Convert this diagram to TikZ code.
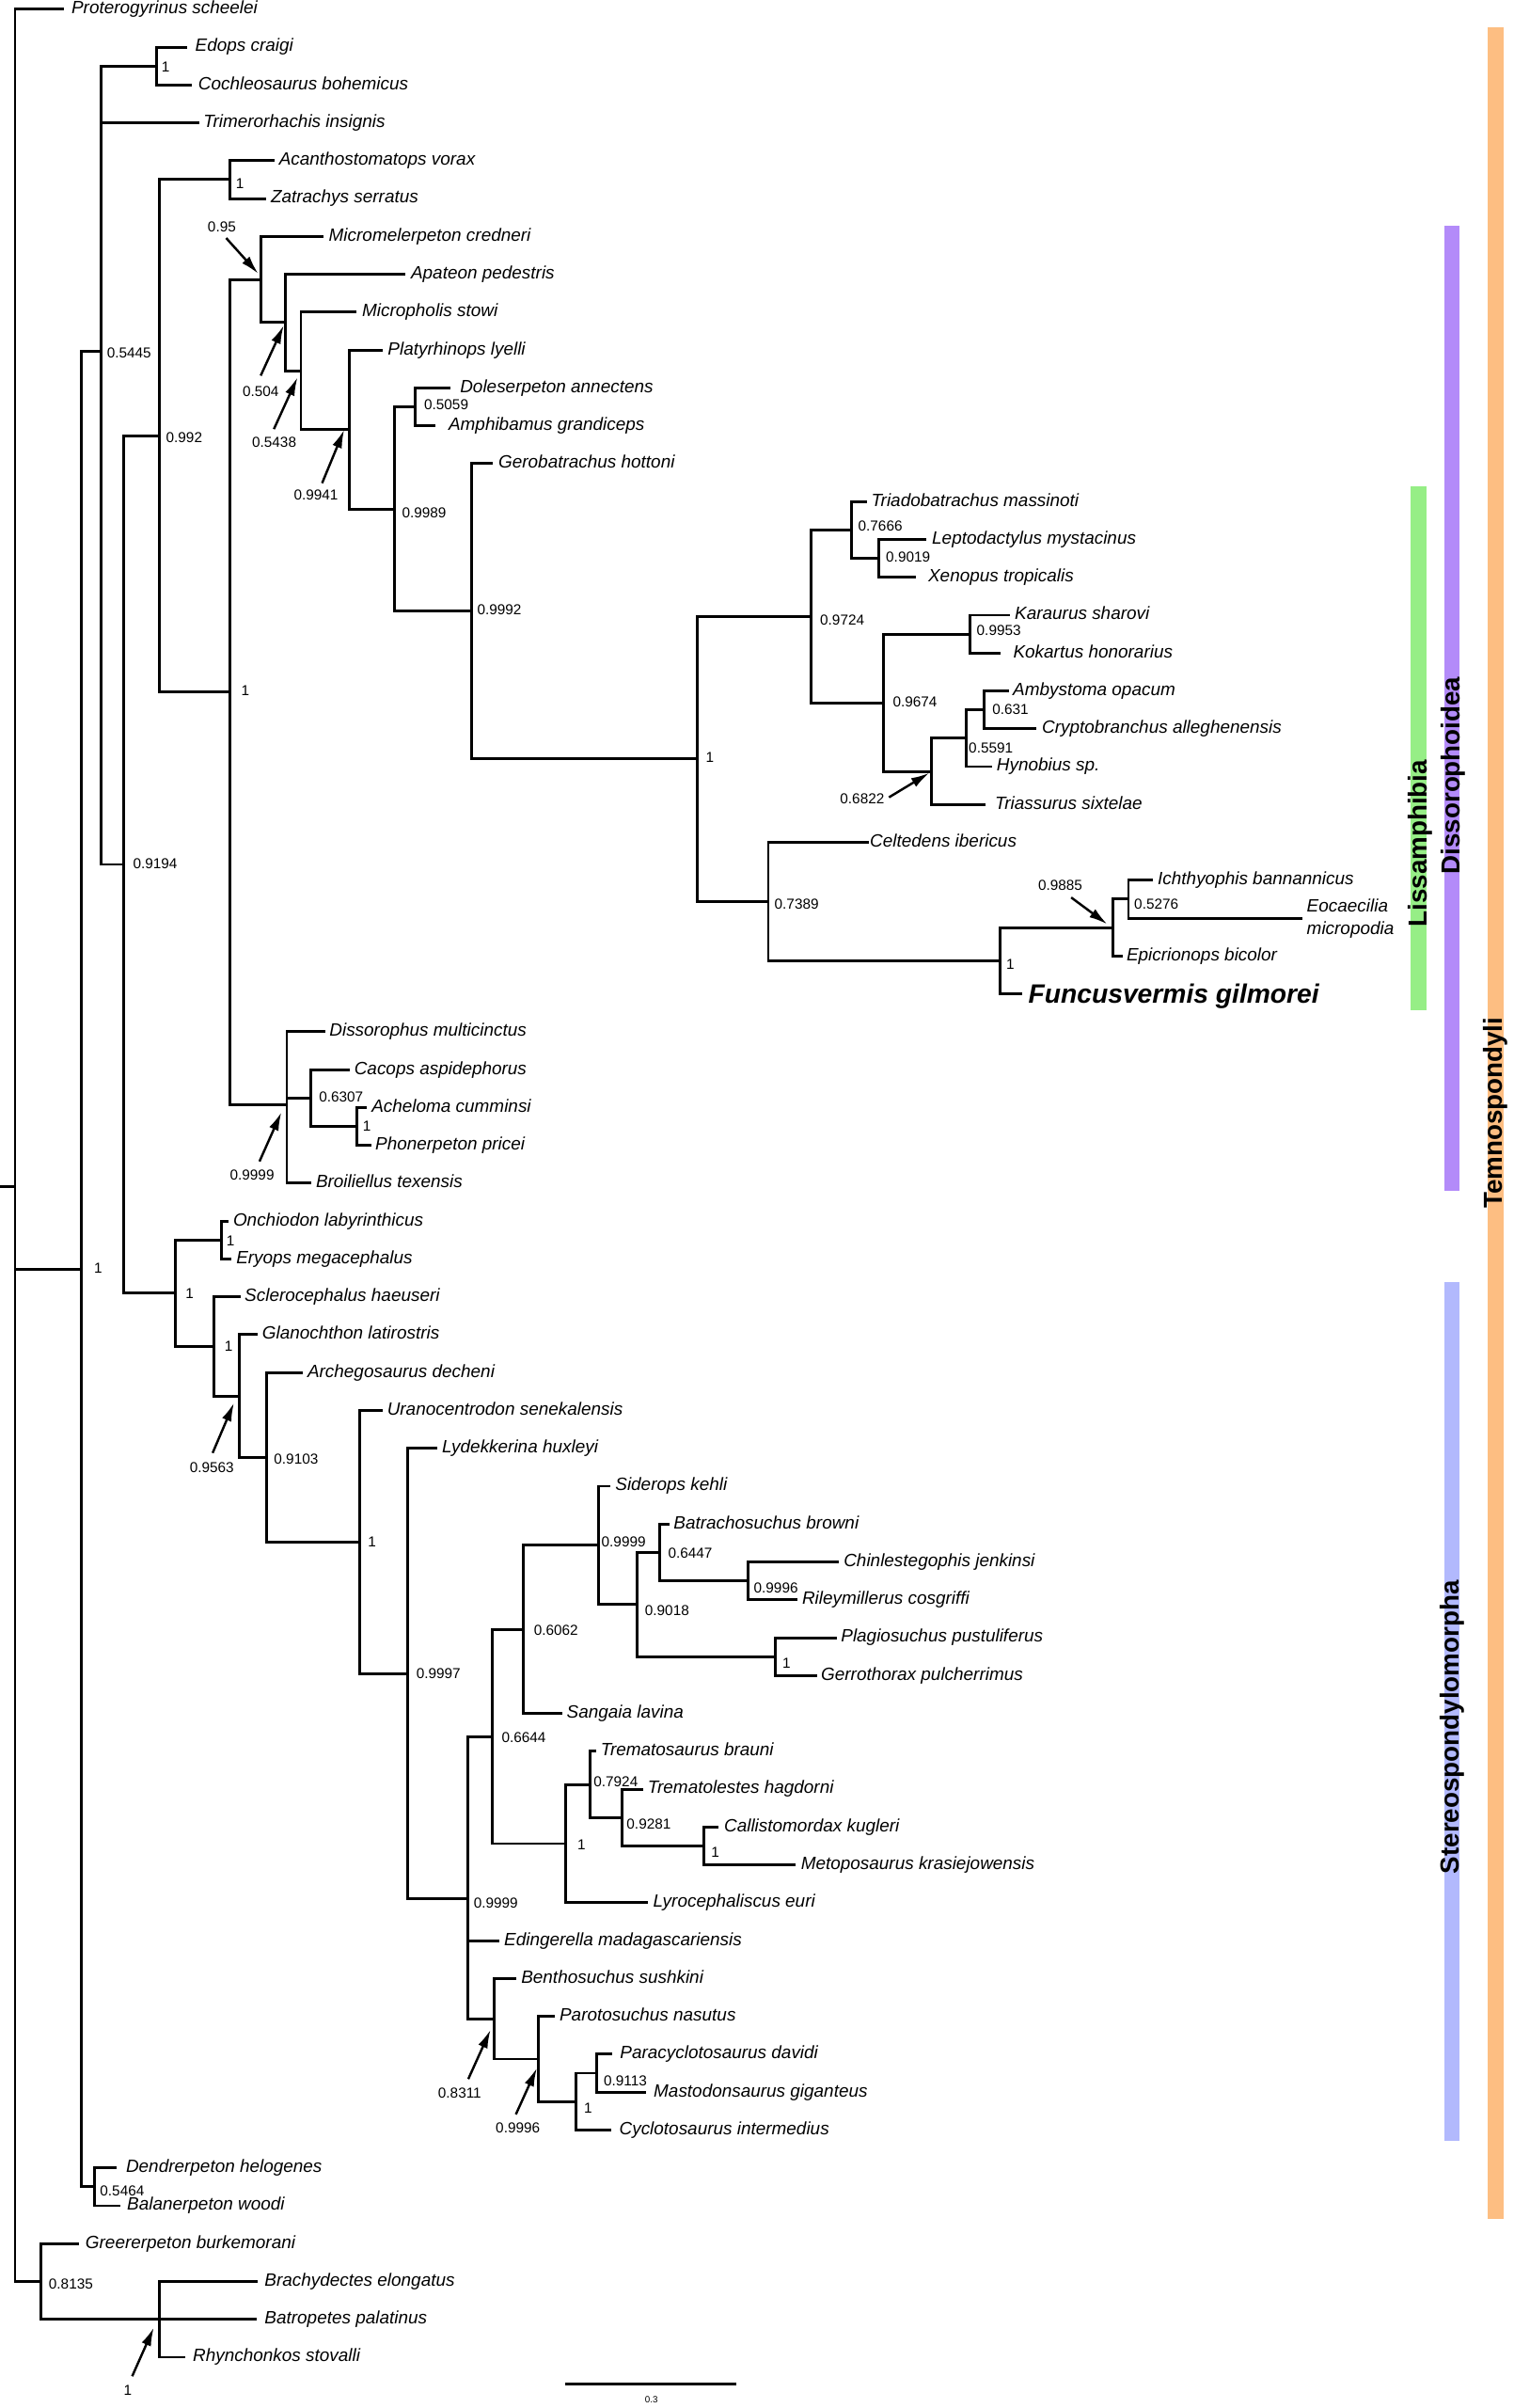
\documentclass[tikz,border=0pt]{standalone}
\usepackage{fontspec}
\setmainfont{Liberation Sans}
\usetikzlibrary{arrows.meta}
\definecolor{temnoc}{RGB}{253,190,130}
\definecolor{dissoc}{RGB}{179,139,249}
\definecolor{lissc}{RGB}{150,238,134}
\definecolor{stereoc}{RGB}{178,185,253}
\begin{document}
\begin{tikzpicture}[x=1pt,y=-1pt,
  branch/.style={line width=1.8pt, line cap=rect, line join=miter},
  leaflab/.style={font=\fontsize{11.6}{14}\selectfont\itshape, anchor=base west, inner sep=0pt},
  supplab/.style={font=\fontsize{9.4}{11}\selectfont, anchor=west, inner sep=0pt},
  arrlab/.style={font=\fontsize{9.4}{11}\selectfont, anchor=center, inner sep=0pt},
  pointer/.style={line width=1.5pt, -{Latex[length=12pt,width=6.5pt]}},
  cladelab/.style={font=\fontsize{17}{20}\selectfont\bfseries, rotate=90, anchor=base, inner sep=0pt},
]
\useasboundingbox (0,0) rectangle (986.1,1568);

% clade bars
\fill[temnoc] (969.2,17.9) rectangle (979.3,1444.8);
\fill[dissoc] (940.6,147) rectangle (950.8,775.7);
\fill[lissc] (918.5,316.4) rectangle (929.4,657.7);
\fill[stereoc] (940.6,834.6) rectangle (950.8,1393.8);
\node[cladelab] (cTemno) at (978.5,724.7) {Temnospondyli};
\node[cladelab] (cDisso) at (951,505) {Dissorophoidea};
\node[cladelab] (cLiss) at (929.5,549.2) {Lissamphibia};
\node[cladelab] (cStereo) at (950.5,1124.7) {Stereospondylomorpha};

% leaves: index / line end / label x / name
\foreach \i/\e/\lx/\nm in {
0/40.7/46.4/Proterogyrinus scheelei,
1/120.8/127/Edops craigi,
2/124.3/129/Cochleosaurus bohemicus,
3/128.8/132.3/Trimerorhachis insignis,
4/177.8/181.6/Acanthostomatops vorax,
5/172.3/176.2/Zatrachys serratus,
6/209.8/214/Micromelerpeton credneri,
7/263.3/267.5/Apateon pedestris,
8/231.3/235.7/Micropholis stowi,
9/248.2/252.4/Platyrhinops lyelli,
10/292.4/299.5/Doleserpeton annectens,
11/282.8/292/Amphibamus grandiceps,
12/320.3/324.5/Gerobatrachus hottoni,
13/563.7/567.3/Triadobatrachus massinoti,
14/602.1/606.9/Leptodactylus mystacinus,
15/595.7/604.4/Xenopus tropicalis,
16/657.2/660.8/Karaurus sharovi,
17/650.9/659.8/Kokartus honorarius,
18/656.1/659.6/Ambystoma opacum,
19/673.9/678.5/Cryptobranchus alleghenensis,
20/645.4/649/Hynobius sp.,
21/641.2/647.9/Triassurus sixtelae,
22/564.8/566.5/Celtedens ibericus,
23/750.3/753.9/Ichthyophis bannannicus,
25/730.7/733.6/Epicrionops bicolor,
27/210.9/214.4/Dissorophus multicinctus,
28/227/230.6/Cacops aspidephorus,
29/238.2/241.9/Acheloma cumminsi,
30/240.9/244.3/Phonerpeton pricei,
31/202/205.6/Broiliellus texensis,
32/148/151.7/Onchiodon labyrinthicus,
33/150/153.7/Eryops megacephalus,
34/155.7/159.2/Sclerocephalus haeuseri,
35/166.7/170.6/Glanochthon latirostris,
36/196.4/200.1/Archegosaurus decheni,
37/248.2/252/Uranocentrodon senekalensis,
38/283.8/287.7/Lydekkerina huxleyi,
39/396.8/400.6/Siderops kehli,
40/435.5/438.6/Batrachosuchus browni,
41/545.5/549.4/Chinlestegophis jenkinsi,
42/518.4/522.3/Rileymillerus cosgriffi,
43/544.2/547.6/Plagiosuchus pustuliferus,
44/531.3/534.6/Gerrothorax pulcherrimus,
45/365.1/368.9/Sangaia lavina,
46/387.3/391.1/Trematosaurus brauni,
47/417.9/421.8/Trematolestes hagdorni,
48/466.9/471.5/Callistomordax kugleri,
49/517.2/521.5/Metoposaurus krasiejowensis,
50/421.3/425.2/Lyrocephaliscus euri,
51/324.6/328.2/Edingerella madagascariensis,
52/335.5/339.3/Benthosuchus sushkini,
53/360.4/364.3/Parotosuchus nasutus,
54/398.1/403.7/Paracyclotosaurus davidi,
55/419.7/425.6/Mastodonsaurus giganteus,
56/397.3/403.2/Cyclotosaurus intermedius,
57/74.9/81.9/Dendrerpeton helogenes,
58/77.3/82.6/Balanerpeton woodi,
59/50.3/55.5/Greererpeton burkemorani,
60/167/172.2/Brachydectes elongatus,
61/166.3/172.2/Batropetes palatinus,
62/119.5/125.5/Rhynchonkos stovalli}{
  \coordinate (L\i) at (\e,{6+24.66*\i});
  \node[leaflab] (T\i) at (\lx,{9+24.66*\i}) {\nm};
}
\coordinate (L24) at (847.3,{6+24.66*24});
\node[font=\fontsize{11.6}{14.5}\selectfont\itshape, anchor=west, align=left, inner sep=0pt] (T24) at (851,598.3) {Eocaecilia\\micropodia};
\coordinate (L26) at (665,{6+24.66*26});
\node[font=\fontsize{17.3}{20}\selectfont\bfseries\itshape, anchor=base west, inner sep=0pt] (T26) at (669.6,653.5) {Funcusvermis gilmorei};

% internal nodes
\foreach \n/\x/\y in {
root/9.8/772.6, nT/52.9/826.3, n5445/65.7/228.6, nEdops/101.9/42.98,
n9194/80.5/562.9, n992/104.1/283.75, nAcan/149.6/116.95, nDisA/150/450.55,
n95/169.8/182, n504/185.8/210.05, n5438/196/241.5, n9941/227.4/279.7,
n9989/256.9/331.5, n5059/270.7/264.95, n9992/306.9/398.05, nLiss/454.2/494.2,
n9724/528.2/401.35, n7666/554.8/345.1, n9019/572.6/363.6, n9674/575.4/457.6,
n9953/632/412.9, n6822/606.4/502.3, n5591/629.5/480.7, n631/640.8/462.2,
n7389/500.4/587.05, nCaec/651.5/625.6, n9885/724.7/604, n5276/735/585.5,
n9999d/186.8/719.1, n6307/202.5/715, nAch/232.7/733.5,
nStA/114.2/842.1, nOnch/144.3/807.45, nScl/139.5/876.7, n9563/155.7/909,
n9103/173.9/948.9, nUr/234/1004.05, n9997/265.3/1089.7, n9999b/304.5/1236.3,
n6644/320.8/1130.75, n6062/341.1/1061, n9999a/389.6/1006.25, n9018/414.8/1044.8,
n6447/429.5/1010.9, n9996a/487/1029.4, nPlag/505/1078.7, nTremA/368.5/1200.5,
n7924/384.4/1161.95, n9281/405/1183.5, nCall/458.4/1202, n8311/322/1314.5,
n9996b/350.9/1340.75, nCycA/375.4/1368.5, n9113/388.8/1349.95,
nDend/61.5/1423.95, nGreer/26.4/1485.6, nLepo/103.7/1510.3}{
  \coordinate (\n) at (\x,\y);
}
\coordinate (rootin) at (0,772.6);
\draw[branch] (rootin) -- (root);

% two-child nodes: parent / top child / bottom child
\foreach \p/\a/\b in {
nT/n5445/nDend, nEdops/L1/L2, n9194/n992/nStA, n992/nAcan/nDisA, nAcan/L4/L5,
nDisA/n95/n9999d, n95/L6/n504, n504/L7/n5438, n5438/L8/n9941, n9941/L9/n9989,
n9989/n5059/n9992, n5059/L10/L11, n9992/L12/nLiss, nLiss/n9724/n7389,
n9724/n7666/n9674, n7666/L13/n9019, n9019/L14/L15, n9674/n9953/n6822,
n9953/L16/L17, n6822/n5591/L21, n5591/n631/L20, n631/L18/L19,
n7389/L22/nCaec, nCaec/n9885/L26, n9885/n5276/L25, n5276/L23/L24,
n6307/L28/nAch, nAch/L29/L30, nStA/nOnch/nScl, nOnch/L32/L33, nScl/L34/n9563,
n9563/L35/n9103, n9103/L36/nUr, nUr/L37/n9997, n9997/L38/n9999b,
n6644/n6062/nTremA, n6062/n9999a/L45, n9999a/L39/n9018, n9018/n6447/nPlag,
n6447/L40/n9996a, n9996a/L41/L42, nPlag/L43/L44, nTremA/n7924/L50,
n7924/L46/n9281, n9281/L47/nCall, nCall/L48/L49, n8311/L52/n9996b,
n9996b/L53/nCycA, nCycA/n9113/L56, n9113/L54/L55, nDend/L57/L58,
nGreer/L59/nLepo}{
  \draw[branch] (\a) -| (\p) |- (\b);
}
% three-child nodes
\foreach \p/\a/\m/\b in {root/L0/nT/nGreer, n5445/nEdops/L3/n9194,
  n9999d/L27/n6307/L31, n9999b/n6644/L51/n8311, nLepo/L60/L61/L62}{
  \draw[branch] (\a) -| (\p) |- (\b);
  \draw[branch] (\p |- \m) -- (\m);
}

% support values
\foreach \n/\x/\y/\t in {
1/105/43.6/1, 2/69.5/229.9/0.5445, 3/153.5/119.5/1, 4/108/285.1/0.992,
5/276.1/263.6/0.5059, 6/261.7/334/0.9989, 7/310.7/397.2/0.9992, 8/157/450/1,
9/86.5/562.3/0.9194, 10/459.6/493.4/1, 11/558.8/342.4/0.7666, 12/576.9/362.8/0.9019,
13/534/403.6/0.9724, 14/636/410.8/0.9953, 15/581.4/457.3/0.9674, 16/646.2/461.9/0.631,
17/630.8/486.9/0.5591, 18/504.3/588.9/0.7389, 19/738.6/588.9/0.5276, 20/655.2/627.9/1,
21/207.6/714.4/0.6307, 22/236.2/733.5/1, 23/147.3/808/1, 24/61.2/826/1,
25/120.7/842.6/1, 26/146.1/876.8/1, 27/178.3/950.2/0.9103, 28/239.5/1004.3/1,
29/271/1090/0.9997, 30/347.6/1061.4/0.6062, 31/391.6/1003.9/0.9999, 32/435/1011.4/0.6447,
33/419.9/1048.6/0.9018, 34/490.8/1033.9/0.9996, 35/509.4/1082.9/1, 36/326.6/1131.2/0.6644,
37/386.5/1160.4/0.7924, 38/408/1187.9/0.9281, 39/463/1206.3/1, 40/375.9/1201.2/1,
41/308.4/1239.4/0.9999, 42/393.1/1354.7/0.9113, 43/380.3/1372.6/1, 44/65/1426.8/0.5464,
45/31.6/1487/0.8135}{
  \node[supplab] (S\n) at (\x,\y) {\t};
}

% support values with pointers
\foreach \n/\cx/\cy/\t/\sx/\sy/\ex/\ey in {
1/144.5/148/0.95/147.3/155/168.2/178.2,
2/169.8/254.7/0.504/169.8/244.6/184.8/211.9,
3/178.6/287.9/0.5438/178.4/279.4/193.8/245.7,
4/205.8/322.6/0.9941/209.8/314.6/224.2/279.8,
5/561.6/520.3/0.6822/579/519.2/605.3/503.3,
6/690.6/576.5/0.9885/697.7/584.4/721.2/601.8,
7/164.2/765/0.9999/169/756.3/183.3/724.2,
8/138/955.7/0.9563/138.5/946.1/152.4/913.5,
9/299.4/1363.1/0.8311/305/1353.8/319.5/1321.7,
10/337.3/1385.6/0.9996/336/1376.8/349.7/1346.6,
11/83.3/1556.4/1/86.1/1547.3/100.2/1515.6}{
  \node[arrlab] (A\n) at (\cx,\cy) {\t};
  \coordinate (As\n) at (\sx,\sy);
  \coordinate (Ae\n) at (\ex,\ey);
  \draw[pointer] (As\n) -- (Ae\n);
}

% scale bar
\coordinate (sbA) at (368.4,1552.4);
\coordinate (sbB) at (479.8,1552.4);
\draw[line width=1.6pt] (sbA) -- (sbB);
\node[font=\fontsize{6}{7}\selectfont, inner sep=0pt] (sbL) at (424.3,1562.6) {0.3};
\end{tikzpicture}
\end{document}
